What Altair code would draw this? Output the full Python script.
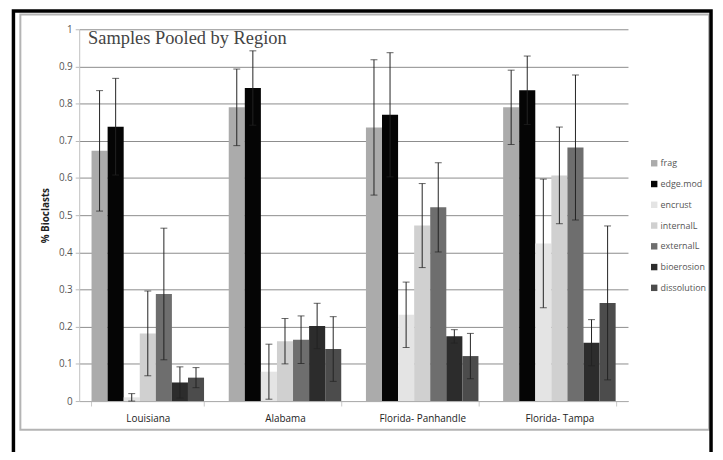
import altair as alt
import pandas as pd

regions = ["Louisiana", "Alabama", "Florida- Panhandle", "Florida- Tampa"]
categories = ["frag", "edge.mod", "encrust", "internalL", "externalL", "bioerosion", "dissolution"]
colors = ["#ababab", "#050505", "#e4e4e4", "#d0d0d0", "#6e6e6e", "#2c2c2c", "#4c4c4c"]

louisiana = [0.673, 0.738, 0.010, 0.182, 0.288, 0.050, 0.063]
alabama = [0.790, 0.842, 0.079, 0.161, 0.165, 0.202, 0.140]
panhandle = [0.736, 0.770, 0.232, 0.472, 0.521, 0.174, 0.121]
tampa = [0.790, 0.836, 0.424, 0.607, 0.682, 0.157, 0.264]

louisiana_err = [0.162, 0.130, 0.010, 0.114, 0.177, 0.042, 0.027]
alabama_err = [0.103, 0.100, 0.074, 0.061, 0.064, 0.061, 0.087]
panhandle_err = [0.182, 0.167, 0.088, 0.113, 0.120, 0.018, 0.061]
tampa_err = [0.100, 0.092, 0.173, 0.130, 0.195, 0.062, 0.207]

y_ticks = [0, 0.1, 0.2, 0.3, 0.4, 0.5, 0.6, 0.7, 0.8, 0.9, 1]

rows = []
for reg, vals, errs in zip(regions, [louisiana, alabama, panhandle, tampa],
                           [louisiana_err, alabama_err, panhandle_err, tampa_err]):
    for cat, v, e in zip(categories, vals, errs):
        rows.append({"region": reg, "cat": cat, "value": v,
                     "lo": max(0.0, v - e), "hi": v + e})
df = pd.DataFrame(rows)

FONT = "Open Sans"

x_axis = alt.Axis(labelAngle=0, labelFont=FONT, labelFontSize=10,
                  labelColor="#222", labelPadding=8, tickBand="extent",
                  tickSize=5, tickColor="#c8c8c8", domainColor="#b0b0b0",
                  grid=False, title=None)
x_scale = alt.Scale(paddingInner=0.18, paddingOuter=0.09)
y_axis = alt.Axis(values=y_ticks, format=".1~f", labelFont=FONT, labelFontSize=10,
                  labelColor="#555", labelPadding=3, tickSize=4, tickColor="#b8b8b8",
                  domainColor="#c0c0c0", gridColor="#8c8c8c", gridWidth=1,
                  labelOverlap=False, titleFont=FONT, titleFontSize=10,
                  titleFontWeight="bold", titleColor="#222", titlePadding=8,
                  title="% Bioclasts")
y_scale = alt.Scale(domain=[0, 1], clamp=True, nice=False)


def xs():
    return alt.X("region:N", sort=regions, scale=x_scale, axis=x_axis)


def xo():
    return alt.XOffset("cat:N", sort=categories, scale=alt.Scale(paddingInner=0, paddingOuter=0))


base = alt.Chart(df)

bars = base.mark_bar(stroke=None).encode(
    x=xs(),
    xOffset=xo(),
    y=alt.Y("value:Q", scale=y_scale, axis=y_axis),
    color=alt.Color("cat:N", sort=categories,
                    scale=alt.Scale(domain=categories, range=colors),
                    legend=alt.Legend(title=None, orient="none", legendX=577, legendY=131,
                                      symbolType="square", symbolSize=42, symbolStrokeWidth=0,
                                      labelFont=FONT, labelFontSize=9, labelColor="#555",
                                      rowPadding=11, labelOffset=2)),
)

err = base.mark_rule(color="#222", strokeWidth=1).encode(
    x=xs(), xOffset=xo(),
    y=alt.Y("lo:Q", scale=y_scale, axis=y_axis),
    y2="hi:Q",
)
cap_hi = base.mark_tick(color="#222", size=7, thickness=1).encode(
    x=xs(), xOffset=xo(),
    y=alt.Y("hi:Q", scale=y_scale, axis=y_axis),
)
cap_lo = base.mark_tick(color="#222", size=7, thickness=1).encode(
    x=xs(), xOffset=xo(),
    y=alt.Y("lo:Q", scale=y_scale, axis=y_axis),
)

one = alt.Data(values=[{"k": 1}])
outer = alt.Chart(one).mark_rect(fill=None, stroke="#000000", strokeWidth=3.5).encode(
    x=alt.value(-66.5), x2=alt.value(639), y=alt.value(-18.5), y2=alt.value(470))
inner = alt.Chart(one).mark_rect(fill=None, stroke="#b4b4b4", strokeWidth=2).encode(
    x=alt.value(-59.5), x2=alt.value(637), y=alt.value(-15), y2=alt.value(405))
title = alt.Chart(one).mark_text(text="Samples Pooled by Region", font="Liberation Serif",
                                 fontSize=18.6, color="#444", align="left",
                                 baseline="alphabetic").encode(
    x=alt.value(9), y=alt.value(15))

chart = alt.layer(inner, outer, bars, err, cap_hi, cap_lo, title).properties(
    width=555, height=376,
    autosize=alt.AutoSizeParams(type="none"),
    padding={"left": 72, "top": 19, "right": 88, "bottom": 49},
    background="white",
).configure_view(stroke=None)

chart.save("out.html", embed_options={"renderer": "svg", "actions": False})
